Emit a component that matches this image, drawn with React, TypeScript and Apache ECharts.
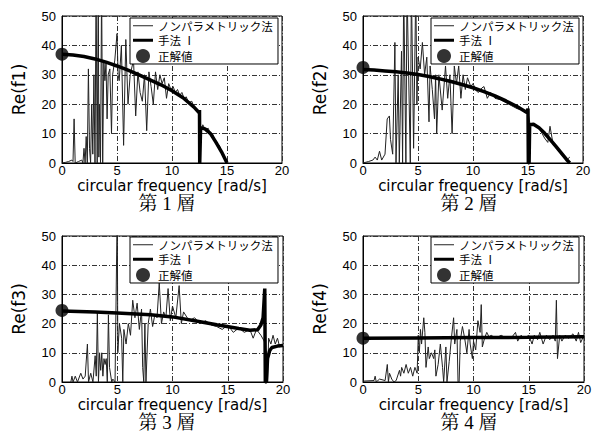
import React, { useEffect, useRef } from "react";
import * as echarts from "echarts";

// ---- data ----
const yNames = ["Re(f1)", "Re(f2)", "Re(f3)", "Re(f4)"];
const captions = ["第 1 層", "第 2 層", "第 3 層", "第 4 層"];
const seriesNames = ["ノンパラメトリック法", "手法 Ⅰ", "正解値"];
const exactValues = [37, 32.5, 24.5, 15];

const np1 = [
  [0,0],[0.3,0.2],[0.6,0.5],[0.9,1],[1.0,0.5],[1.1,15],[1.2,0],[1.5,0.5],[1.8,1],[1.9,0],[2.0,5],[2.1,0],[2.2,9],[2.3,0],[2.4,32],[2.5,5],[2.6,0],[2.7,20],[2.8,3],[2.9,30],[3.0,0],[3.1,60],[3.2,0],[3.3,60],[3.35,2],[3.4,20],[3.5,0],[3.6,60],[3.7,0],[3.8,35],[3.9,28],[4.0,34],[4.1,15],[4.2,30],[4.35,32],[4.5,10],[4.6,30],[4.8,35],[5.0,44],[5.1,30],[5.2,28],[5.3,34],[5.4,40],[5.6,6],[5.8,42],[6.0,20],[6.2,30],[6.5,35],[6.7,16],[6.9,31],[7.1,24],[7.3,21],[7.5,30],[7.7,11],[7.9,31],[8.1,26],[8.3,20],[8.5,31],[8.7,25],[8.9,30],[9.1,27],[9.3,29],[9.5,22],[9.7,27],[9.9,25],[10.1,26],[10.3,24],[10.5,25],[10.7,23],[10.9,24],[11.1,22],[11.3,22.5],[11.5,20.5],[11.8,21],[12.0,19],[12.2,18.5],[12.4,17],[12.5,16],[12.6,10],[12.8,13],[13.0,11.5],[13.3,11.8],[13.5,9.5],[13.7,9.8],[14.0,7],[14.3,6],[14.5,4],[14.8,1.5],[15,0]
];
const m1 = [
  [0,37],[1,36.7],[2,36.2],[3,35.4],[4,34.3],[5,33],[6,31.6],[7,30],[8,28.3],[9,26.6],[10,24.6],[11,22.2],[12,19],[12.45,17.2],[12.5,18],[12.52,0],[12.58,0],[12.6,12],[13,11.6],[13.5,10],[14,7],[14.5,3.8],[15,0]
];

const np2 = [
  [0,0],[0.5,0.5],[0.9,1],[1.1,2],[1.3,1],[1.5,4],[1.7,1],[2.0,3],[2.2,15],[2.4,16],[2.5,8],[2.7,3],[2.9,41],[3.0,0],[3.2,30],[3.3,0],[3.5,38],[3.6,0],[3.7,60],[3.9,0],[4.0,60],[4.3,0],[4.4,60],[4.6,5],[4.8,60],[4.9,20],[5.0,36],[5.2,32],[5.4,41],[5.6,30],[5.8,36],[6.0,14],[6.1,33],[6.3,25],[6.5,15],[6.6,30],[6.7,10],[6.9,30],[7.2,18],[7.5,33],[7.7,22],[7.9,30],[8.1,10],[8.3,33],[8.5,27],[8.7,33],[8.9,22],[9.1,30],[9.3,25],[9.5,29],[9.8,26],[10,27],[10.3,24.5],[10.5,24],[10.8,25.5],[11,26],[11.3,22],[11.6,24],[12,22],[12.5,21.5],[13,20.5],[13.5,19.5],[14,18.5],[14.5,18],[15,17],[15.2,13],[15.5,13],[16,12],[16.5,8.5],[16.8,7],[17,12.5],[17.3,6],[17.6,5],[18,3],[18.5,1],[18.8,2]
];
const m2 = [
  [0,31.8],[1,31.6],[2,31.3],[3,31],[4,30.6],[5,30.1],[6,29.4],[7,28.6],[8,27.7],[9,26.7],[10,25.6],[11,24.3],[12,22.8],[13,21.1],[14,19.2],[14.9,17.2],[15,18.5],[15.03,0],[15.1,0],[15.15,13],[15.5,13.2],[16,12],[16.5,10.2],[17,8],[17.5,5.8],[18,3.5],[18.5,1.2],[18.8,0]
];

const np3 = [
  [0.8,0],[0.9,2],[1.0,0],[1.2,2],[1.4,0],[1.7,3],[1.9,1],[2.1,2],[2.3,13],[2.4,0],[2.6,3],[2.8,0],[3.0,9],[3.1,2],[3.2,24],[3.3,0],[3.4,10],[3.5,4],[3.6,10],[3.7,2],[3.8,8],[3.9,6],[4.0,8],[4.1,0],[4.2,23],[4.3,5],[4.5,0],[4.6,1],[4.8,0],[5.0,60],[5.05,10],[5.2,20],[5.4,15],[5.5,0],[5.6,18],[5.8,13],[6.0,20],[6.2,16],[6.4,28],[6.6,22],[6.8,27],[7.0,18],[7.2,25],[7.3,5],[7.4,0],[7.5,20],[7.6,0],[7.8,20],[8.0,25],[8.2,19],[8.4,23],[8.6,22],[8.8,34],[9.0,20],[9.2,24],[9.4,22],[9.6,32],[9.8,21],[10,26],[10.3,22],[10.6,33],[10.8,20],[11,24],[11.5,21],[12,22],[12.5,20],[13,21],[13.5,19.5],[14,19],[14.5,18],[15,19.5],[15.5,17],[16,18.5],[16.5,17],[17,18],[17.3,15],[17.6,18],[18,16],[18.3,14],[18.5,10],[18.6,0],[18.7,15],[18.9,13],[19.1,16],[19.3,13],[19.5,15],[19.7,12],[20,13]
];
const m3 = [
  [0,24.3],[3,24.0],[5,23.6],[8,23],[10,22.3],[12,21],[14,19.6],[16,18.3],[17,17.7],[17.7,17.9],[18.0,19.5],[18.2,22],[18.35,32],[18.4,0],[18.5,0],[18.6,8],[18.8,10.8],[19,11.8],[19.5,12.3],[20,12.5]
];

const np4 = [
  [0,0.3],[1.0,0.5],[1.1,2],[1.2,0],[1.5,1],[2.0,0.5],[2.2,6],[2.3,0],[2.4,3],[2.6,1],[2.8,0],[3.0,0.5],[3.3,4],[3.4,2],[3.5,5],[3.7,3],[3.9,6],[4.1,3],[4.3,5],[4.5,2],[4.7,5],[4.9,3],[5.0,16],[5.1,10],[5.2,18],[5.3,13],[5.5,22],[5.6,17],[5.7,5],[5.9,12],[6.0,8],[6.2,10],[6.4,8],[6.5,11],[6.6,2],[6.8,6],[7.0,13],[7.2,5],[7.3,0],[7.5,12],[7.6,0],[7.8,7],[8.0,15],[8.2,22],[8.3,13],[8.5,18],[8.6,0],[8.7,0],[8.8,14],[9.0,19],[9.2,15],[9.4,10],[9.6,18],[9.7,13],[9.9,8],[10.0,14],[10.2,11],[10.4,21],[10.6,17],[10.7,26.5],[10.8,12],[11.0,15],[11.2,17],[11.4,15.5],[11.6,16],[12,15],[12.5,16],[13,15],[13.5,15.5],[13.8,17],[14,14],[14.3,16],[14.6,15],[15,16],[15.3,13],[15.5,16],[15.8,14.5],[16,17],[16.3,13],[16.6,16],[16.9,14.5],[17.2,16],[17.4,14],[17.5,28],[17.6,8],[17.8,16],[18.0,14],[18.3,16],[18.6,15],[19.0,16.5],[19.3,14],[19.5,17],[19.7,13.5],[20,16]
];
const m4 = [
  [0,15],[5,15.1],[10,15.2],[15,15.3],[20,15.5]
];

const npData = [np1, np2, np3, np4];
const methodData = [m1, m2, m3, m4];

// ---- layout ----
const grids = [
  { left: 62, top: 16, width: 220, height: 147 },
  { left: 363, top: 16, width: 220, height: 147 },
  { left: 62, top: 236, width: 221, height: 146 },
  { left: 363, top: 236, width: 221, height: 146 },
];
const legendPos = [
  { left: 130, top: 18 },
  { left: 431, top: 18 },
  { left: 130, top: 237 },
  { left: 431, top: 237 },
];
const captionPos = [
  [167, 203],
  [469, 203],
  [167, 422],
  [469, 422],
];

const LATIN = '"Liberation Sans", Arial, sans-serif';
const CJK = '"Noto Sans CJK JP", sans-serif';

export default function App() {
  const ref = useRef<HTMLDivElement>(null);
  useEffect(() => {
    document.body.style.margin = "0";
    const chart = echarts.init(ref.current!, null, { renderer: "svg" });
    const gridLine = { show: true, lineStyle: { color: "#333", width: 1, type: [5, 2, 1, 2] } };
    const option: any = {
      animation: false,
      backgroundColor: "#fff",
      grid: grids.map((g) => ({ ...g, show: true, borderColor: "#000", borderWidth: 1, backgroundColor: "transparent" })),
      xAxis: grids.map((_, i) => ({
        type: "value",
        gridIndex: i,
        min: 0,
        max: 20,
        interval: 5,
        axisLine: { show: true, lineStyle: { color: "#000", width: 1 } },
        axisTick: { show: false },
        splitLine: gridLine,
        axisLabel: { margin: 1, fontSize: 13, lineHeight: 13, color: "#000", fontFamily: LATIN },
        name: "circular frequency [rad/s]",
        nameLocation: "middle",
        nameGap: 15,
        nameTextStyle: { fontSize: 15, lineHeight: 15, color: "#000", fontFamily: '"DejaVu Sans", sans-serif' },
      })),
      yAxis: grids.map((_, i) => ({
        type: "value",
        gridIndex: i,
        min: 0,
        max: 50,
        interval: 10,
        axisLine: { show: true, lineStyle: { color: "#000", width: 1 } },
        axisTick: { show: false },
        splitLine: gridLine,
        axisLabel: { margin: 6, fontSize: 13, color: "#000", fontFamily: LATIN },
        name: yNames[i],
        nameLocation: "middle",
        nameGap: 35,
        nameTextStyle: { fontSize: 17, color: "#000", fontFamily: '"DejaVu Sans", sans-serif' },
      })),
      legend: legendPos.map((p) => ({
        ...p,
        orient: "vertical",
        backgroundColor: "#fff",
        borderColor: "#000",
        borderWidth: 1,
        borderRadius: 0,
        padding: [2, 5, 1, 3],
        itemWidth: 20,
        itemHeight: 14,
        itemGap: 3,
        selectedMode: false,
        textStyle: { fontSize: 11.5, color: "#000", fontFamily: CJK },
        data: [
          { name: seriesNames[0], icon: "path://M0,0L20,0L20,1L0,1Z" },
          { name: seriesNames[1], icon: "path://M0,0L20,0L20,3L0,3Z" },
          { name: seriesNames[2], icon: "circle" },
        ],
        z: 10,
      })),
      graphic: captions.map((c, i) => ({
        type: "text",
        x: captionPos[i][0],
        y: captionPos[i][1],
        style: {
          text: c,
          fontSize: 19,
          fontFamily: '"Liberation Serif", "Noto Serif CJK JP", "Noto Sans CJK JP", serif',
          fill: "#000",
          textAlign: "center",
          textVerticalAlign: "middle",
        },
      })),
      series: [
        ...npData.map((d, i) => ({
          type: "line",
          name: seriesNames[0],
          xAxisIndex: i,
          yAxisIndex: i,
          data: d,
          symbol: "none",
          color: "#222",
          lineStyle: { color: "#222", width: 1 },
          clip: true,
          z: 2,
        })),
        ...methodData.map((d, i) => ({
          type: "line",
          name: seriesNames[1],
          xAxisIndex: i,
          yAxisIndex: i,
          data: d,
          symbol: "none",
          color: "#000",
          lineStyle: { color: "#000", width: 3.5 },
          clip: true,
          z: 3,
        })),
        ...exactValues.map((v, i) => ({
          type: "scatter",
          name: seriesNames[2],
          xAxisIndex: i,
          yAxisIndex: i,
          data: [[0, v]],
          symbol: "circle",
          symbolSize: 13,
          color: "#000",
          itemStyle: { color: "#000" },
          clip: false,
          z: 4,
        })),
      ],
    };
    chart.setOption(option);
    return () => chart.dispose();
  }, []);
  return (
    <div
      ref={ref}
      style={{ position: "fixed", left: 0, top: 0, width: 612, height: 438, background: "#fff" }}
    />
  );
}
